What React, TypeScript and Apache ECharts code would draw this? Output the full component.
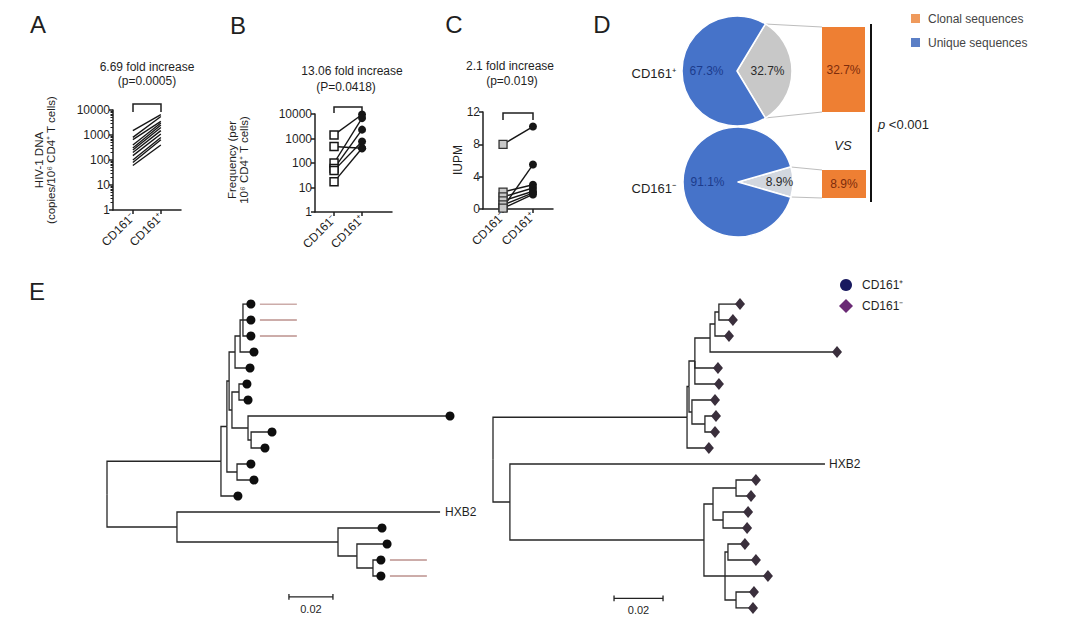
import React, { useEffect, useRef } from 'react';
import * as echarts from 'echarts';

// ---------- DATA ----------
const categories = ['CD161⁻', 'CD161⁺'];

// Panel A: HIV-1 DNA (copies/10^6 CD4+ T cells), paired
const hivDnaMinus = [1500, 800, 650, 400, 300, 250, 200, 150, 100, 80, 60];
const hivDnaPlus = [6500, 5500, 3500, 3000, 2500, 2000, 1500, 1100, 800, 650, 400];
const logMinorTicks = [2, 3, 4, 5, 6, 7, 8, 9, 20, 30, 40, 50, 60, 70, 80, 90, 200, 300, 400, 500, 600, 700, 800, 900, 2000, 3000, 4000, 5000, 6000, 7000, 8000, 9000];

// Panel B: frequency per 10^6 CD4+ T cells, paired
const freqMinus = [1400, 470, 100, 60, 50, 17];
const freqPlus = [9500, 400, 6800, 2300, 750, 400];

// Panel C: IUPM, paired
const iupmMinus = [8, 0.2, 2.1, 1.5, 1.0, 0.5, 0.1];
const iupmPlus = [10.2, 5.5, 3.0, 2.6, 2.2, 2.0, 1.8];

// Panel D: clonal vs unique sequences (%)
const pieGroups = ['CD161⁺', 'CD161⁻'];
const clonalPct = [32.7, 8.9];
const uniquePct = [67.3, 91.1];

// Panel E: trees  [id, parent, distance from root (subst./site), leaf row]
type TreeNode = [string, string | null, number, number | null];
const leftTree: TreeNode[] = [
  ['root', null, 0, null],
  ['U', 'root', 0.0518, null],
  ['Lo', 'root', 0.0318, null],
  ['HXB2', 'Lo', 0.1514, 13],
  ['M1', 'Lo', 0.105, null],
  ['w1', 'M1', 0.1241, 14],
  ['M2', 'M1', 0.1136, null],
  ['w2', 'M2', 0.1264, 15],
  ['M3', 'M2', 0.1209, null],
  ['w3', 'M3', 0.1236, 16],
  ['w4', 'M3', 0.1236, 17],
  ['N1', 'U', 0.0545, null],
  ['l12', 'U', 0.0586, 12],
  ['N2', 'N1', 0.0555, null],
  ['N7', 'N1', 0.0591, null],
  ['l10', 'N7', 0.0645, 10],
  ['l11', 'N7', 0.0659, 11],
  ['N3', 'N2', 0.0582, null],
  ['N5', 'N2', 0.0568, null],
  ['N4', 'N3', 0.0605, null],
  ['l5', 'N3', 0.0641, 4],
  ['N4a', 'N4', 0.0618, null],
  ['l4', 'N4', 0.0659, 3],
  ['l1', 'N4a', 0.0645, 0],
  ['l2', 'N4a', 0.0645, 1],
  ['l3', 'N4a', 0.0645, 2],
  ['N6', 'N5', 0.06, null],
  ['l6', 'N6', 0.0627, 5],
  ['l7', 'N6', 0.0632, 6],
  ['N8', 'N5', 0.0641, null],
  ['long', 'N8', 0.155, 7],
  ['N9', 'N8', 0.0655, null],
  ['l8', 'N9', 0.0741, 8],
  ['l9', 'N9', 0.0709, 9],
];
const leftMarkedLeaves = ['l1', 'l2', 'l3', 'w3', 'w4'];

const rightTree: TreeNode[] = [
  ['root', null, 0, null],
  ['Q', 'root', 0.0792, null],
  ['H', 'root', 0.0069, null],
  ['HXB2', 'H', 0.1355, 10],
  ['P', 'H', 0.0861, null],
  ['Q2', 'Q', 0.08, null],
  ['r9', 'Q', 0.0873, 9],
  ['Q3', 'Q2', 0.0824, null],
  ['Q6', 'Q2', 0.0812, null],
  ['Q4', 'Q3', 0.0886, null],
  ['r4', 'Q3', 0.091, 4],
  ['r5', 'Q3', 0.0914, 5],
  ['Q4a', 'Q4', 0.0906, null],
  ['long', 'Q4', 0.1396, 3],
  ['Q4b', 'Q4a', 0.0922, null],
  ['r3', 'Q4a', 0.0955, 2],
  ['r1', 'Q4b', 0.1, 0],
  ['r2', 'Q4b', 0.0971, 1],
  ['r6', 'Q6', 0.0898, 6],
  ['Q7', 'Q6', 0.0865, null],
  ['r7', 'Q7', 0.0902, 7],
  ['r8', 'Q7', 0.0898, 8],
  ['P1', 'P', 0.0898, null],
  ['P2', 'P', 0.0947, null],
  ['P1a', 'P1', 0.0992, null],
  ['r10', 'P1a', 0.1065, 11],
  ['r11', 'P1a', 0.1045, 12],
  ['P1b', 'P1', 0.0939, null],
  ['r12', 'P1b', 0.1033, 13],
  ['r13', 'P1b', 0.1029, 14],
  ['P2a', 'P2', 0.0959, null],
  ['r14', 'P2a', 0.102, 15],
  ['r15', 'P2a', 0.1065, 16],
  ['r16', 'P2', 0.1114, 17],
  ['P2b', 'P2', 0.0992, null],
  ['r17', 'P2b', 0.1057, 18],
  ['r18', 'P2b', 0.1053, 19],
];
const scaleBarLength = 0.02;

// ---------- LAYOUT / STYLE ----------
const FONT = '"Liberation Sans", Arial, Helvetica, sans-serif';
const INK = '#1f1f1f';
const leftTreeBox = { left: 107, top: 304, pxPerUnit: 2200, rowPx: 16, barX: 0.0827, barRow: 18.3 };
const rightTreeBox = { left: 493, top: 304, pxPerUnit: 2450, rowPx: 16, barX: 0.0494, barRow: 18.4 };
const TREE_MAX_X = 0.16;
const TREE_MAX_ROW = 19;

function layoutTree(nodes: TreeNode[]) {
  const map = new Map<string, any>();
  nodes.forEach(([id, parent, dist, row]) =>
    map.set(id, { id, parent, x: dist, y: row == null ? NaN : row, children: [] as any[] })
  );
  map.forEach((n) => { if (n.parent) map.get(n.parent).children.push(n); });
  const yOf = (n: any): number => {
    if (!n.children.length) return n.y;
    const ys = n.children.map(yOf);
    n.y = (Math.min(...ys) + Math.max(...ys)) / 2;
    return n.y;
  };
  const root = [...map.values()].find((n) => !n.parent);
  yOf(root);
  const segs: any[] = [];
  const leaves: any[] = [];
  map.forEach((n) => {
    if (n.parent) {
      const p = map.get(n.parent);
      segs.push({ coords: [[p.x, p.y], [p.x, n.y], [n.x, n.y]] });
    }
    if (!n.children.length) leaves.push(n);
  });
  return { segs, leaves, map };
}

const txt = (text: string, x: number, y: number, extra: any = {}, style: any = {}) => ({
  type: 'text', x, y, silent: true, ...extra,
  style: { text, fill: INK, fontFamily: FONT, fontSize: 12, align: 'center', verticalAlign: 'middle', ...style },
});
const pline = (points: number[][], stroke = INK, lineWidth = 1.5) => ({
  type: 'polyline', silent: true, shape: { points }, style: { stroke, lineWidth, fill: 'none' },
});

function pairXAxis(gridIndex: number, min: number, max: number) {
  return {
    type: 'value', gridIndex, min, max,
    axisLine: { show: true, onZero: false, lineStyle: { color: INK, width: 1.5 } },
    axisTick: { show: true, customValues: [0, 1], length: 4, lineStyle: { color: INK, width: 1.5 } },
    axisLabel: {
      show: true, customValues: [0, 1], rotate: 45, margin: 5, color: INK, fontSize: 12, fontFamily: FONT,
      formatter: (v: number) => categories[Math.round(v)] ?? '',
    },
    splitLine: { show: false },
  };
}
function yAxisBase(gridIndex: number, extra: any) {
  return {
    gridIndex,
    position: 'left',
    axisLine: { show: true, onZero: false, lineStyle: { color: INK, width: 1.5 } },
    axisTick: { show: true, length: 4, lineStyle: { color: INK, width: 1.5 } },
    axisLabel: { color: INK, fontSize: 12, fontFamily: FONT, margin: 3 },
    splitLine: { show: false },
    ...extra,
  };
}

function buildOption() {
  const L = layoutTree(leftTree);
  const R = layoutTree(rightTree);
  const series: any[] = [];

  // Panel A
  hivDnaMinus.forEach((m, i) => series.push({
    type: 'line', xAxisIndex: 0, yAxisIndex: 0, symbol: 'none', silent: true,
    data: [[0, m], [1, hivDnaPlus[i]]],
    lineStyle: { color: '#161616', width: 1.4 },
  }));
  // Panel B
  freqMinus.forEach((m, i) => series.push({
    type: 'line', xAxisIndex: 1, yAxisIndex: 2, silent: true, z: 3,
    lineStyle: { color: '#161616', width: 1.4 }, itemStyle: { color: '#161616', opacity: 1 },
    data: [
      { value: [0, m], symbol: 'rect', symbolSize: 8, itemStyle: { color: '#fff', borderColor: '#161616', borderWidth: 1.5 } },
      { value: [1, freqPlus[i]], symbol: 'circle', symbolSize: 8, itemStyle: { color: '#161616' } },
    ],
  }));
  // Panel C
  iupmMinus.forEach((m, i) => series.push({
    type: 'line', xAxisIndex: 2, yAxisIndex: 3, silent: true, z: 3,
    lineStyle: { color: '#161616', width: 1.4 }, itemStyle: { color: '#161616', opacity: 1 },
    data: [
      { value: [0, m], symbol: 'rect', symbolSize: 8, itemStyle: { color: '#c9c9c9', borderColor: '#333', borderWidth: 1.3 } },
      { value: [1, iupmPlus[i]], symbol: 'circle', symbolSize: 8, itemStyle: { color: '#161616' } },
    ],
  }));

  // Panel D pies
  const pieCenters = [[737, 71], [738, 182]];
  const grayColors = ['#c8c8c8', '#d2d7df'];
  const grayOffsets = [[0, 0], [11, 0]];
  pieGroups.forEach((g, i) => series.push({
    type: 'pie', name: g, center: pieCenters[i], radius: 55, silent: true,
    startAngle: (clonalPct[i] * 3.6) / 2, clockwise: true,
    itemStyle: { borderColor: '#ffffff', borderWidth: 1.5 },
    labelLine: { show: false },
    label: { show: true, position: 'inside', formatter: '{c}%', fontSize: 12, fontFamily: FONT },
    data: [
      { name: 'Clonal sequences', value: clonalPct[i], itemStyle: { color: grayColors[i] }, label: { color: '#2a2a2a', offset: grayOffsets[i] } },
      { name: 'Unique sequences', value: uniquePct[i], itemStyle: { color: '#4673c9' }, label: { color: '#1c3b8c' } },
    ],
  }));
  // Panel D bars
  clonalPct.forEach((v, i) => series.push({
    type: 'bar', xAxisIndex: 3 + i, yAxisIndex: 4 + i, barWidth: '100%', silent: true,
    data: [v], itemStyle: { color: '#ee7f33' },
    label: { show: true, position: 'inside', formatter: '{c}%', color: '#7d2c0c', fontSize: 12, fontFamily: FONT },
  }));

  // Panel E trees
  const treeLine = { color: '#262626', width: 1.3, opacity: 1 };
  series.push({ type: 'lines', coordinateSystem: 'cartesian2d', xAxisIndex: 5, yAxisIndex: 6, polyline: true, silent: true, lineStyle: treeLine, data: L.segs });
  series.push({ type: 'lines', coordinateSystem: 'cartesian2d', xAxisIndex: 6, yAxisIndex: 7, polyline: true, silent: true, lineStyle: treeLine, data: R.segs });
  // marked lines next to some left-tree leaves
  series.push({
    type: 'lines', coordinateSystem: 'cartesian2d', xAxisIndex: 5, yAxisIndex: 6, polyline: true, silent: true,
    lineStyle: { color: '#9a5a55', width: 1, opacity: 1 },
    data: leftMarkedLeaves.map((id) => {
      const n = L.map.get(id);
      return { coords: [[n.x + 0.005, n.y], [n.x + 0.0218, n.y]] };
    }),
  });
  series.push({
    type: 'scatter', xAxisIndex: 5, yAxisIndex: 6, symbol: 'circle', symbolSize: 9, symbolOffset: [2, 0], silent: true,
    itemStyle: { color: '#0e0e0e', opacity: 1 }, z: 4,
    data: L.leaves.filter((n) => n.id !== 'HXB2').map((n) => [n.x, n.y]),
  });
  series.push({
    type: 'scatter', xAxisIndex: 6, yAxisIndex: 7, symbol: 'diamond', symbolSize: [10, 12], symbolOffset: [2, 0], silent: true,
    itemStyle: { color: '#3a2f3c', opacity: 1 }, z: 4,
    data: R.leaves.filter((n) => n.id !== 'HXB2').map((n) => [n.x, n.y]),
  });
  // scale bars
  [[5, 6, leftTreeBox], [6, 7, rightTreeBox]].forEach(([xi, yi, box]: any) => {
    const x1 = box.barX, x2 = box.barX + scaleBarLength, r = box.barRow;
    series.push({
      type: 'lines', coordinateSystem: 'cartesian2d', xAxisIndex: xi, yAxisIndex: yi, polyline: true, silent: true,
      lineStyle: { color: '#222', width: 1.3, opacity: 1 },
      data: [
        { coords: [[x1, r], [x2, r]] },
        { coords: [[x1, r - 0.18], [x1, r + 0.18]] },
        { coords: [[x2, r - 0.18], [x2, r + 0.18]] },
      ],
    });
  });

  const treePx = (box: any, n: any) => [box.left + n.x * box.pxPerUnit, box.top + n.y * box.rowPx];
  const lH = treePx(leftTreeBox, L.map.get('HXB2'));
  const rH = treePx(rightTreeBox, R.map.get('HXB2'));
  const scaleTxt = (box: any) => [box.left + (box.barX + scaleBarLength / 2) * box.pxPerUnit, box.top + box.barRow * box.rowPx + 12];
  const lS = scaleTxt(leftTreeBox);
  const rS = scaleTxt(rightTreeBox);

  const graphics: any[] = [
    // panel letters
    txt('A', 38, 24, {}, { fontSize: 24 }),
    txt('B', 238, 25, {}, { fontSize: 24 }),
    txt('C', 454, 24, {}, { fontSize: 24 }),
    txt('D', 602, 24, {}, { fontSize: 24 }),
    txt('E', 37, 291, {}, { fontSize: 24 }),
    // titles
    txt('6.69 fold increase', 147, 67),
    txt('(p=0.0005)', 147, 81),
    txt('13.06 fold increase', 352, 71),
    txt('(P=0.0418)', 346, 87),
    txt('2.1 fold increase', 510, 66),
    txt('(p=0.019)', 512, 81),
    // y axis names
    txt('HIV-1 DNA\n(copies/10⁶ CD4⁺ T cells)', 45, 160, { rotation: Math.PI / 2 }, { lineHeight: 12, fontSize: 11.5 }),
    txt('Frequency (per\n10⁶ CD4⁺ T cells)', 238, 160, { rotation: Math.PI / 2 }, { lineHeight: 12, fontSize: 11.5 }),
    txt('IUPM', 458, 160, { rotation: Math.PI / 2 }),
    // brackets
    pline([[133, 112], [133, 104], [161, 104], [161, 112]]),
    pline([[334, 113], [334, 107], [362, 107], [362, 113]]),
    pline([[503, 120], [503, 113], [533, 113], [533, 120]]),
    // panel D annotations
    txt('CD161⁺', 676, 73, {}, { align: 'right', fontSize: 13 }),
    txt('CD161⁻', 676, 188, {}, { align: 'right', fontSize: 13 }),
    pline([[765, 24], [822, 27]], '#bdbdbd', 1),
    pline([[765, 118], [822, 112]], '#bdbdbd', 1),
    pline([[791, 167], [822, 170]], '#bdbdbd', 1),
    pline([[791, 197], [822, 198]], '#bdbdbd', 1),
    pline([[871, 24], [871, 202]], '#111', 2),
    txt('VS', 843, 145, {}, { fontStyle: 'italic', fontSize: 13 }),
    txt('{i|p} <0.001', 878, 124, {}, { align: 'left', fontSize: 13, rich: { i: { fontStyle: 'italic', fontSize: 13, fontFamily: FONT, fill: INK } } }),
    { type: 'rect', silent: true, shape: { x: 911, y: 14, width: 9, height: 9 }, style: { fill: '#ef9a5c' } },
    txt('Clonal sequences', 928, 19, {}, { align: 'left', fill: '#444' }),
    { type: 'rect', silent: true, shape: { x: 911, y: 38, width: 9, height: 9 }, style: { fill: '#5b7fc6' } },
    txt('Unique sequences', 928, 43, {}, { align: 'left', fill: '#444' }),
    // panel E legend
    { type: 'circle', silent: true, shape: { cx: 846, cy: 285, r: 6 }, style: { fill: '#18195f' } },
    txt('CD161⁺', 862, 285, {}, { align: 'left' }),
    { type: 'polygon', silent: true, shape: { points: [[846, 299], [853, 306], [846, 313], [839, 306]] }, style: { fill: '#6a2a75' } },
    txt('CD161⁻', 862, 306, {}, { align: 'left' }),
    // tree labels
    txt('HXB2', lH[0] + 5, lH[1], {}, { align: 'left' }),
    txt('HXB2', rH[0] + 4, rH[1], {}, { align: 'left' }),
    txt(String(scaleBarLength), lS[0], lS[1], {}, { fontSize: 11 }),
    txt(String(scaleBarLength), rS[0], rS[1], {}, { fontSize: 11 }),
  ];

  const gridBase = { containLabel: false, outerBoundsMode: 'none' };
  return {
    animation: false,
    backgroundColor: '#ffffff',
    textStyle: { fontFamily: FONT },
    grid: [
      { ...gridBase, left: 113, top: 110, width: 68, height: 100 },
      { ...gridBase, left: 315, top: 114, width: 77, height: 98 },
      { ...gridBase, left: 483, top: 112, width: 70, height: 97 },
      { ...gridBase, left: 822, top: 27, width: 43, height: 85 },
      { ...gridBase, left: 822, top: 170, width: 44, height: 28 },
      { ...gridBase, left: leftTreeBox.left, top: leftTreeBox.top, width: TREE_MAX_X * leftTreeBox.pxPerUnit, height: TREE_MAX_ROW * leftTreeBox.rowPx },
      { ...gridBase, left: rightTreeBox.left, top: rightTreeBox.top, width: TREE_MAX_X * rightTreeBox.pxPerUnit, height: TREE_MAX_ROW * rightTreeBox.rowPx },
    ],
    xAxis: [
      pairXAxis(0, -0.71, 1.72),
      pairXAxis(1, -0.68, 2.07),
      pairXAxis(2, -0.67, 1.67),
      { type: 'category', gridIndex: 3, data: ['Clonal'], show: false },
      { type: 'category', gridIndex: 4, data: ['Clonal'], show: false },
      { type: 'value', gridIndex: 5, min: 0, max: TREE_MAX_X, show: false },
      { type: 'value', gridIndex: 6, min: 0, max: TREE_MAX_X, show: false },
    ],
    yAxis: [
      yAxisBase(0, { type: 'log', logBase: 10, min: 1, max: 10000, axisLabel: { color: INK, fontSize: 12, fontFamily: FONT, margin: 3, formatter: (v: number) => String(Math.round(v)) } }),
      yAxisBase(0, {
        type: 'log', logBase: 10, min: 1, max: 10000, offset: 0,
        axisLine: { show: false, onZero: false },
        axisLabel: { show: false },
        axisTick: { show: true, length: 2.5, customValues: logMinorTicks, lineStyle: { color: INK, width: 1 } },
      }),
      yAxisBase(1, { type: 'log', logBase: 10, min: 1, max: 10000, axisLabel: { color: INK, fontSize: 12, fontFamily: FONT, margin: 3, formatter: (v: number) => String(Math.round(v)) } }),
      yAxisBase(2, { type: 'value', min: 0, max: 12, interval: 4 }),
      { type: 'value', gridIndex: 3, min: 0, max: clonalPct[0], show: false },
      { type: 'value', gridIndex: 4, min: 0, max: clonalPct[1], show: false },
      { type: 'value', gridIndex: 5, min: 0, max: TREE_MAX_ROW, inverse: true, show: false },
      { type: 'value', gridIndex: 6, min: 0, max: TREE_MAX_ROW, inverse: true, show: false },
    ],
    series,
    graphic: { elements: graphics },
  };
}

export default function App() {
  const ref = useRef<HTMLDivElement>(null);
  useEffect(() => {
    if (!ref.current) return;
    const chart = echarts.init(ref.current, null, { renderer: 'svg' });
    chart.setOption(buildOption() as any);
    return () => chart.dispose();
  }, []);
  return (
    <div
      ref={ref}
      style={{ position: 'absolute', left: 0, top: 0, width: 1066, height: 626, background: '#ffffff' }}
    />
  );
}
